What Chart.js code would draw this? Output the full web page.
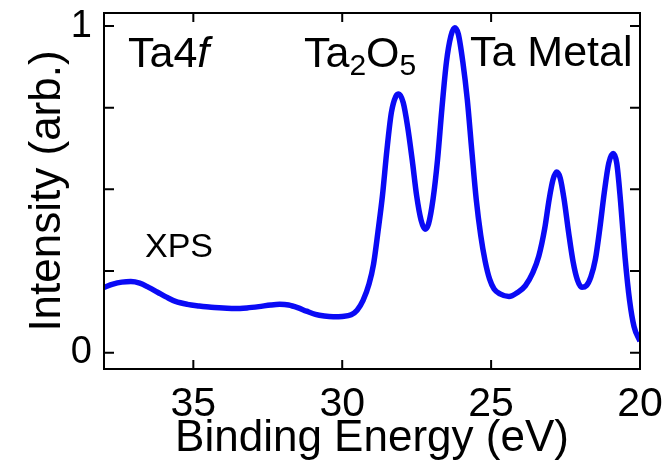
<!DOCTYPE html>
<html>
<head>
<meta charset="utf-8">
<script src="https://cdn.jsdelivr.net/npm/chart.js@4.4.1/dist/chart.umd.min.js"></script>
<style>
  html, body { margin: 0; padding: 0; background: #fff; }
</style>
</head>
<body>
<canvas id="xps" width="670" height="465"></canvas>
<script>
// Ta4f XPS spectrum
const energy = [
  38.0, 37.7, 37.4, 37.1, 36.8, 36.5, 36.2, 35.9, 35.6, 35.2,
  34.8, 34.4, 34.0, 33.6, 33.2, 32.8, 32.4, 32.1, 31.8, 31.5,
  31.2, 30.9, 30.6, 30.3, 30.0, 29.7, 29.5, 29.3, 29.1, 28.95,
  28.8, 28.65, 28.5, 28.35, 28.2, 28.1, 27.95, 27.8, 27.65, 27.5,
  27.35, 27.22, 27.1, 26.95, 26.8, 26.65, 26.5, 26.35, 26.22, 26.1,
  25.95, 25.8, 25.65, 25.5, 25.35, 25.2, 25.05, 24.9, 24.7, 24.4,
  24.1, 23.85, 23.6, 23.4, 23.2, 23.05, 22.92, 22.8, 22.68, 22.55,
  22.4, 22.25, 22.1, 21.95, 21.8, 21.65, 21.5, 21.35, 21.2, 21.05,
  20.9, 20.78, 20.65, 20.5, 20.35, 20.2, 20.0
];
const intensity = [
  0.200, 0.210, 0.216, 0.218, 0.213, 0.200, 0.185, 0.170, 0.157, 0.148,
  0.143, 0.139, 0.137, 0.135, 0.137, 0.141, 0.146, 0.148, 0.146, 0.138,
  0.127, 0.117, 0.112, 0.110, 0.111, 0.116, 0.130, 0.160, 0.210, 0.270,
  0.370, 0.480, 0.620, 0.735, 0.785, 0.792, 0.765, 0.690, 0.590, 0.480,
  0.405, 0.378, 0.395, 0.470, 0.590, 0.750, 0.890, 0.970, 0.995, 0.975,
  0.890, 0.775, 0.620, 0.470, 0.360, 0.280, 0.225, 0.195, 0.180, 0.172,
  0.185, 0.205, 0.245, 0.295, 0.380, 0.470, 0.530, 0.553, 0.535, 0.470,
  0.370, 0.280, 0.222, 0.200, 0.205, 0.232, 0.285, 0.380, 0.490, 0.580,
  0.610, 0.580, 0.460, 0.290, 0.160, 0.080, 0.035
];
const xTicks = [35, 30, 25, 20];
const yTicks = [0, 0.25, 0.5, 0.75, 1];
const yTickLabels = { 0: '0', 1: '1' };

const FONT = "'Liberation Sans', Arial, Helvetica, sans-serif";

// box round the plot with inward ticks on all four sides
const frame = {
  id: 'frame',
  afterDatasetsDraw(chart) {
    const { ctx, chartArea: a, scales: { x, y } } = chart;
    ctx.save();
    ctx.strokeStyle = '#000';
    ctx.lineWidth = 2;
    ctx.strokeRect(a.left, a.top, a.right - a.left, a.bottom - a.top);
    ctx.beginPath();
    x.ticks.forEach(t => {
      const px = x.getPixelForValue(t.value);
      ctx.moveTo(px, a.bottom); ctx.lineTo(px, a.bottom - 9);
      ctx.moveTo(px, a.top); ctx.lineTo(px, a.top + 9);
    });
    y.ticks.forEach(t => {
      const py = y.getPixelForValue(t.value);
      ctx.moveTo(a.left, py); ctx.lineTo(a.left + 10, py);
      ctx.moveTo(a.right, py); ctx.lineTo(a.right - 10, py);
    });
    ctx.stroke();
    ctx.restore();
  }
};

// text labels inside the plot
const notes = {
  id: 'notes',
  afterDraw(chart) {
    const { ctx } = chart;
    ctx.save();
    ctx.fillStyle = '#000';
    ctx.textBaseline = 'alphabetic';
    ctx.textAlign = 'left';

    const big = '43px ' + FONT;
    const sub = '30px ' + FONT;

    // Ta4f
    ctx.font = big;
    ctx.fillText('Ta4', 128, 67);
    let w = ctx.measureText('Ta4').width;
    ctx.font = 'italic ' + big;
    ctx.fillText('f', 128 + w, 67);

    // Ta2O5
    let x = 304;
    const parts = [['Ta', big, 0], ['2', sub, 8], ['O', big, 0], ['5', sub, 8]];
    parts.forEach(([t, f, dy]) => {
      ctx.font = f;
      ctx.fillText(t, x, 67 + dy);
      x += ctx.measureText(t).width;
    });

    // Ta Metal
    ctx.font = big;
    ctx.fillText('Ta Metal', 470, 66);

    // XPS
    ctx.font = '34px ' + FONT;
    ctx.fillText('XPS', 145, 257);
    ctx.restore();
  }
};

new Chart(document.getElementById('xps'), {
  type: 'scatter',
  data: {
    datasets: [{
      data: energy.map((e, i) => ({ x: e, y: intensity[i] })),
      showLine: true,
      borderColor: '#0a0af5',
      borderWidth: 5.5,
      pointRadius: 0,
      cubicInterpolationMode: 'monotone'
    }]
  },
  options: {
    responsive: false,
    animation: false,
    layout: { padding: { top: 13, right: 30, left: 0, bottom: 0 } },
    plugins: { legend: { display: false }, tooltip: { enabled: false } },
    scales: {
      x: {
        type: 'linear',
        reverse: true,
        min: 20,
        max: 38,
        afterBuildTicks: s => { s.ticks = xTicks.map(v => ({ value: v })); },
        afterFit: s => { s.height = 96; s.paddingLeft = 0; s.paddingRight = 0; },
        grid: { display: false },
        border: { display: false },
        ticks: { color: '#000', padding: 3, maxRotation: 0, font: { family: FONT, size: 41 } },
        title: {
          display: true,
          text: 'Binding Energy (eV)',
          color: '#000',
          font: { family: FONT, size: 44, lineHeight: 1 },
          padding: { top: 0, bottom: 4 }
        }
      },
      y: {
        min: -0.05,
        max: 1.04,
        afterBuildTicks: s => { s.ticks = yTicks.map(v => ({ value: v })); },
        afterFit: s => { s.width = 104; s.paddingTop = 0; s.paddingBottom = 0; },
        grid: { display: false },
        border: { display: false },
        ticks: {
          color: '#000',
          padding: 4,
          font: { family: FONT, size: 38 },
          callback: v => yTickLabels[v] ?? ''
        },
        title: {
          display: true,
          text: 'Intensity (arb.)',
          color: '#000',
          font: { family: FONT, size: 44, lineHeight: 1 },
          padding: { top: 26, bottom: 0 }
        }
      }
    }
  },
  plugins: [frame, notes]
});
</script>
</body>
</html>
